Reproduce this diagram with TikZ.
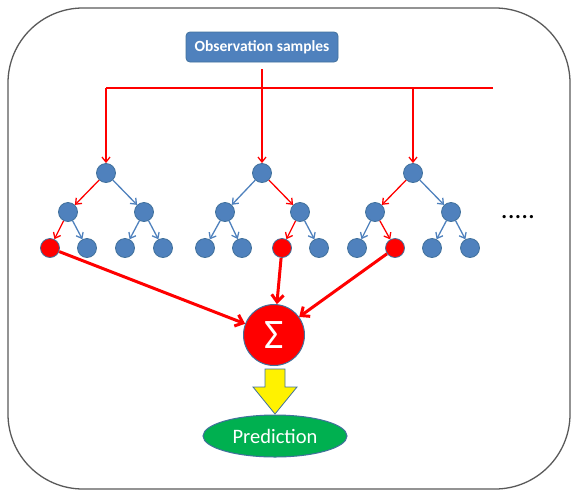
\documentclass[tikz,border=0pt]{standalone}
\usepackage{fontspec}
\setmainfont{Carlito}
\usetikzlibrary{arrows.meta,shapes.geometric,shapes.arrows,calc}
\definecolor{nodeblue}{HTML}{4F81BD}
\definecolor{nodeedge}{HTML}{41719C}
\definecolor{predgreen}{HTML}{00B050}
\tikzset{
  tn/.style={circle,fill=nodeblue,draw=nodeedge,line width=0.8pt,minimum size=19pt,inner sep=0pt},
  rn/.style={circle,fill=red,draw=nodeedge,line width=0.8pt,minimum size=19pt,inner sep=0pt},
  be/.style={draw=nodeblue,line width=1.3pt,-{Straight Barb[length=5pt,width=8pt]}},
  re/.style={draw=red,line width=1.3pt,-{Straight Barb[length=5pt,width=8pt]}},
  thk/.style={draw=red,line width=3pt,-{Straight Barb[length=7pt,width=12pt]}},
  feed/.style={draw=red,line width=1.3pt},
}
\begin{document}
\begin{tikzpicture}[x=1pt,y=-1pt]
\useasboundingbox (0,0) rectangle (572,490);
% outer frame
\draw[draw=black!65,line width=1.3pt,rounded corners=75pt] (8,8) rectangle (570,489);
% observation box
\node[rectangle,rounded corners=4pt,fill=nodeblue,draw=nodeedge,line width=0.8pt,
      minimum width=152pt,minimum height=30pt,inner sep=0pt,text=white,font=\fontsize{15.5}{17}\selectfont\bfseries] (obs) at (262,47) {Observation samples};
% feed lines
\coordinate (obsb) at (262,69);
\coordinate (hl) at (106,88);
\coordinate (hm) at (262,88);
\coordinate (hr) at (413,88);
\coordinate (he) at (493,88);
\draw[feed] (obsb) -- (hm);
\draw[feed] (hl) -- (he);
% tree 1
\node[tn] (a0) at (106,173) {};
\node[tn] (a1) at (68,212) {};
\node[tn] (a2) at (144,212) {};
\node[rn] (a3) at (50,248) {};
\node[tn] (a4) at (87,248) {};
\node[tn] (a5) at (125,248) {};
\node[tn] (a6) at (163,248) {};
% tree 2
\node[tn] (b0) at (262,173) {};
\node[tn] (b1) at (225,212) {};
\node[tn] (b2) at (300,212) {};
\node[tn] (b3) at (205,248) {};
\node[tn] (b4) at (242,248) {};
\node[rn] (b5) at (282,248) {};
\node[tn] (b6) at (319,248) {};
% tree 3
\node[tn] (c0) at (413,173) {};
\node[tn] (c1) at (375,212) {};
\node[tn] (c2) at (451,212) {};
\node[tn] (c3) at (357,248) {};
\node[rn] (c4) at (395,248) {};
\node[tn] (c5) at (432,248) {};
\node[tn] (c6) at (470,248) {};
% feed arrows
\draw[re] (hl) -- (a0);
\draw[re] (hm) -- (b0);
\draw[re] (hr) -- (c0);
% tree edges
\draw[re] (a0) -- (a1); \draw[be] (a0) -- (a2);
\draw[re] (a1) -- (a3); \draw[be] (a1) -- (a4);
\draw[be] (a2) -- (a5); \draw[be] (a2) -- (a6);
\draw[be] (b0) -- (b1); \draw[re] (b0) -- (b2);
\draw[be] (b1) -- (b3); \draw[be] (b1) -- (b4);
\draw[re] (b2) -- (b5); \draw[be] (b2) -- (b6);
\draw[re] (c0) -- (c1); \draw[be] (c0) -- (c2);
\draw[be] (c1) -- (c3); \draw[re] (c1) -- (c4);
\draw[be] (c2) -- (c5); \draw[be] (c2) -- (c6);
% dots
\node[anchor=base,inner sep=0pt,font=\fontsize{27}{29}\selectfont] (dots) at (518,218) {.....};
% sigma
\node[circle,fill=red,draw=nodeedge,line width=1pt,minimum size=61pt,inner sep=0pt,
      text=white,font=\fontsize{42}{44}\selectfont] (sig) at (274,335) {Σ};
\draw[thk] (a3) -- (sig);
\draw[thk] (b5) -- (sig);
\draw[thk] (c4) -- (sig);
% prediction
\node[ellipse,fill=predgreen,draw=nodeedge,line width=1pt,minimum width=144pt,minimum height=42pt,
      inner sep=0pt,text=white,font=\fontsize{20.5}{22}\selectfont] (pred) at (275,436) {Prediction};
% yellow block arrow
\coordinate (ya) at (275,369);
\coordinate (yb) at (275,414);
\draw[fill=yellow,draw=nodeedge,line width=0.8pt,line join=miter]
  ($(ya)+(-10,0)$) -- ($(ya)+(10,0)$) -- (285,387) -- (297,387) -- (yb) -- (253,387) -- (265,387) -- cycle;
\end{tikzpicture}
\end{document}
